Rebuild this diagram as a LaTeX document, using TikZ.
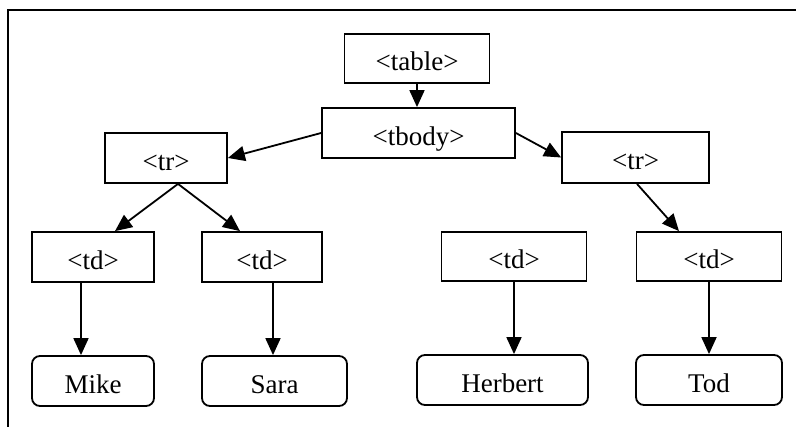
\documentclass[tikz,border=0pt]{standalone}
\usepackage{fontspec}
\setmainfont{Liberation Serif}
\usetikzlibrary{arrows.meta,calc}
\begin{document}
\begin{tikzpicture}[x=1pt,y=-1pt,
 box/.style={draw,line width=1.8pt,inner sep=0pt,text height=25pt,text depth=0pt,font=\fontsize{27}{30}\selectfont},
 leaf/.style={box,rounded corners=8pt},
 arr/.style={-{Triangle[length=17pt,width=15pt]},line width=1.8pt}]
\useasboundingbox (0,0) rectangle (796,427);
\fill[white] (0,0) rectangle (796,427);
\draw[line width=2pt] (8,427) -- (8,10) -- (796,10);
\node[box,minimum width=145pt,minimum height=49pt] (table) at (417,58.5) {<table>};
\node[box,minimum width=193pt,minimum height=50pt] (tbody) at (418.5,133) {<tbody>};
\node[box,minimum width=122pt,minimum height=50pt] (trL) at (166,158) {<tr>};
\node[box,minimum width=147pt,minimum height=51pt] (trR) at (635.5,157.5) {<tr>};
\node[box,minimum width=122pt,minimum height=50pt] (td1) at (93,257) {<td>};
\node[box,minimum width=120pt,minimum height=50pt] (td2) at (262,257) {<td>};
\node[box,minimum width=145pt,minimum height=49pt] (td3) at (514,256.5) {<td>};
\node[box,minimum width=145pt,minimum height=49pt] (td4) at (709,256.5) {<td>};
\node[leaf,minimum width=122pt,minimum height=50pt] (Mike) at (93,381) {Mike};
\node[leaf,minimum width=145pt,minimum height=50pt] (Sara) at (274.5,381) {Sara};
\node[leaf,minimum width=171pt,minimum height=50pt] (Herbert) at (502.5,380) {Herbert};
\node[leaf,minimum width=146pt,minimum height=50pt] (Tod) at (709,380) {Tod};
\draw[arr] (table.south) -- (table.south |- tbody.north);
\draw[arr] (tbody.west) -- (trL.east);
\draw[arr] (tbody.east) -- (trR.west);
\draw[arr] ($(trL.south)+(12,0)$) -- ($(td1.north)+(22,0)$);
\draw[arr] ($(trL.south)+(12,0)$) -- ($(td2.north)+(-22,0)$);
\draw[arr] ($(trR.south)+(1.5,0)$) -- ($(td4.north)+(-30,0)$);
\draw[arr] ($(td1.south)+(-12,0)$) -- ($(Mike.north)+(-12,0)$);
\draw[arr] ($(td2.south)+(11,0)$) -- ($(Sara.north)+(-1.5,0)$);
\draw[arr] (td3.south) -- (td3.south |- Herbert.north);
\draw[arr] (td4.south) -- (td4.south |- Tod.north);
\end{tikzpicture}
\end{document}
